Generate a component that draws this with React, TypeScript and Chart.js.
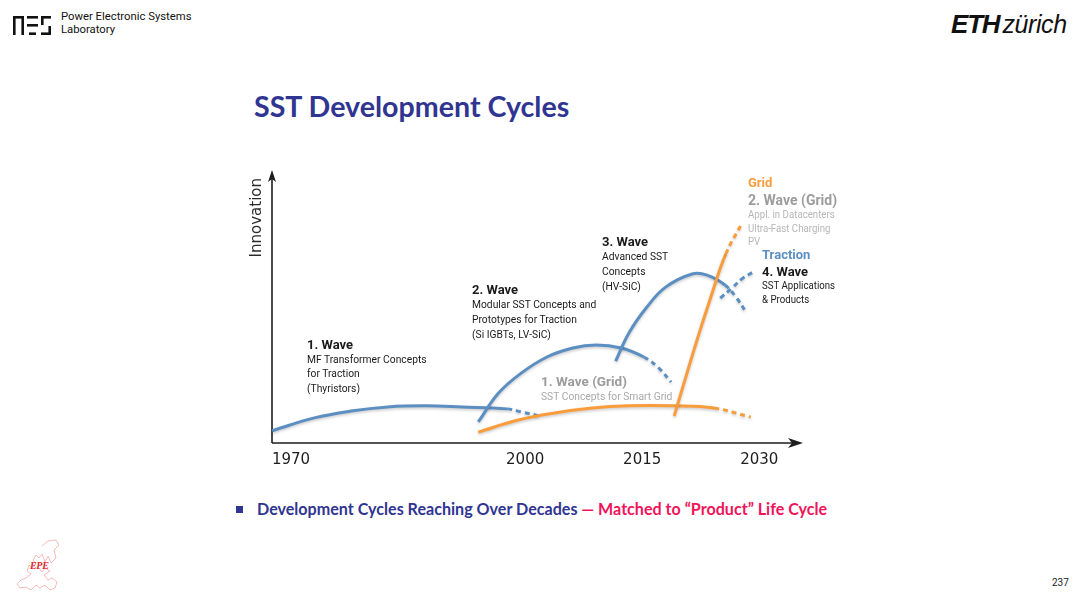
import React, { useEffect, useRef } from 'react';
import { Chart, registerables } from 'chart.js';

Chart.register(...registerables);

// ---------- data ----------
const xTickValues = [1970, 2000, 2015, 2030];
const xTickLabels = ['1970', '2000', '2015', '2030'];

// Traction waves (blue)
const trac1X = [1967.6, 1973.0, 1977.7, 1982.4, 1987.2, 1991.9, 1997.7, 1999.5, 2001.9];
const trac1Y = [4.5, 9.2, 11.7, 13.2, 13.6, 13.2, 12.5, 11.4, 9.9];
const trac1DashFrom = 6;

const trac2X = [1994.0, 1996.6, 1999.5, 2002.8, 2006.1, 2009.1, 2012.3, 2015.2, 2017.1, 2018.7];
const trac2Y = [7.7, 18.3, 25.6, 31.5, 34.8, 35.9, 34.8, 31.5, 27.5, 22.3];
const trac2DashFrom = 7;

const trac3X = [2011.6, 2013.3, 2015.6, 2018.0, 2021.4, 2023.3, 2025.6, 2027.0, 2028.3];
const trac3Y = [30.0, 40.3, 49.8, 57.1, 61.9, 61.5, 57.9, 53.5, 48.0];
const trac3DashFrom = 6;

const trac4X = [2025.0, 2026.5, 2027.9, 2029.2];
const trac4Y = [53.1, 56.8, 60.4, 62.6];
const trac4DashFrom = 0;

// Grid waves (orange)
const grid1X = [1994.0, 1999.1, 2003.8, 2008.6, 2013.3, 2018.9, 2024.2, 2028.9];
const grid1Y = [4.0, 8.4, 11.0, 12.8, 13.6, 13.6, 12.8, 9.5];
const grid1DashFrom = 6;

const grid2X = [2019.1, 2021.9, 2023.8, 2025.7, 2027.8];
const grid2Y = [9.9, 36.6, 53.5, 69.2, 80.6];
const grid2DashFrom = 3;

const Y_ARROW = 100;

const BLUE = '#5b8fc2';
const ORANGE = '#f89c3c';
const AXIS = '#1e1e1e';
const NAVY = '#2f3591';

const toPoints = (xs: number[], ys: number[]) => xs.map((x, i) => ({ x, y: ys[i] }));

const makeSet = (xs: number[], ys: number[], dashFrom: number, color: string) => ({
  data: toPoints(xs, ys),
  borderColor: color,
  borderWidth: 3,
  pointRadius: 0,
  tension: 0.4,
  fill: false,
  clip: false as any,
  borderCapStyle: 'butt' as const,
  segment: {
    borderDash: (ctx: any) => (ctx.p0DataIndex >= dashFrom ? [5, 4] : undefined),
  },
});

const axesPlugin = {
  id: 'axesArrows',
  beforeDatasetsDraw(chart: any) {
    const { ctx, chartArea } = chart;
    const { left, right, bottom } = chartArea;
    const top = chart.scales.y.getPixelForValue(Y_ARROW);
    ctx.save();
    ctx.strokeStyle = AXIS;
    ctx.fillStyle = AXIS;
    ctx.lineWidth = 1.6;
    ctx.beginPath();
    ctx.moveTo(left, bottom);
    ctx.lineTo(right - 8, bottom);
    ctx.moveTo(left, bottom);
    ctx.lineTo(left, top + 8);
    ctx.stroke();
    ctx.beginPath();
    ctx.moveTo(right, bottom);
    ctx.lineTo(right - 15, bottom - 5);
    ctx.lineTo(right - 11, bottom);
    ctx.lineTo(right - 15, bottom + 5);
    ctx.closePath();
    ctx.fill();
    ctx.beginPath();
    ctx.moveTo(left, top);
    ctx.lineTo(left - 4, top + 12);
    ctx.lineTo(left, top + 9);
    ctx.lineTo(left + 4, top + 12);
    ctx.closePath();
    ctx.fill();
    ctx.restore();
    ctx.save();
    ctx.shadowColor = 'rgba(0,0,0,0.22)';
    ctx.shadowBlur = 3;
    ctx.shadowOffsetY = 1.5;
  },
  afterDatasetsDraw(chart: any) {
    chart.ctx.restore();
  },
};

function WaveChart() {
  const ref = useRef<HTMLCanvasElement>(null);
  useEffect(() => {
    const canvas = ref.current!;
    const chart = new Chart(canvas, {
      type: 'line',
      data: {
        datasets: [
          makeSet(grid2X, grid2Y, grid2DashFrom, ORANGE),
          makeSet(trac4X, trac4Y, trac4DashFrom, BLUE),
          makeSet(grid1X, grid1Y, grid1DashFrom, ORANGE),
          makeSet(trac3X, trac3Y, trac3DashFrom, BLUE),
          makeSet(trac2X, trac2Y, trac2DashFrom, BLUE),
          makeSet(trac1X, trac1Y, trac1DashFrom, BLUE),
        ] as any,
      },
      options: {
        animation: false,
        responsive: true,
        maintainAspectRatio: false,
        layout: { padding: { top: 18, right: 17, left: 0, bottom: 0 } },
        plugins: { legend: { display: false }, tooltip: { enabled: false } },
        scales: {
          x: {
            type: 'linear',
            min: 1967.57,
            max: 2035.6,
            grid: { display: false, drawTicks: false },
            border: { display: false },
            afterBuildTicks: (s: any) => {
              s.ticks = xTickValues.map((v) => ({ value: v }));
            },
            afterFit: (s: any) => {
              s.height = 37;
            },
            ticks: {
              autoSkip: false,
              maxRotation: 0,
              padding: 8,
              color: '#1e1e1e',
              font: { family: '"DejaVu Sans", sans-serif', size: 15 },
              callback: (_v: any, i: number) => xTickLabels[i],
            },
          },
          y: {
            type: 'linear',
            min: 0,
            max: 97.07,
            grid: { display: false, drawTicks: false },
            border: { display: false },
            ticks: { display: false },
            afterFit: (s: any) => {
              s.width = 32;
            },
            title: {
              display: true,
              text: 'Innovation',
              align: 'end',
              color: '#2a2a2a',
              font: { family: '"DejaVu Sans", sans-serif', size: 15 },
              padding: { top: 8, bottom: 0 },
            },
          },
        },
      } as any,
      plugins: [axesPlugin],
    });
    return () => chart.destroy();
  }, []);
  return <canvas ref={ref} />;
}

type Lbl = {
  x: number;
  y: number;
  text: string;
  size: number;
  color: string;
  bold?: boolean;
  sx?: number;
};

const BLACK = '#1a1a1a';
const GREY_H = '#9c9c9c';
const GREY_T = '#a9a9a9';
const GREY_L = '#b6b6b6';
const SUB = 11.7;
const SX = 0.88;

const labels: Lbl[] = [
  { x: 307, y: 344, text: '1. Wave', size: 13, color: BLACK, bold: true },
  { x: 307, y: 359, text: 'MF Transformer Concepts', size: SUB, color: BLACK, sx: SX },
  { x: 307, y: 373.5, text: 'for Traction', size: SUB, color: BLACK, sx: SX },
  { x: 307, y: 388, text: '(Thyristors)', size: SUB, color: BLACK, sx: SX },

  { x: 472, y: 289, text: '2. Wave', size: 13, color: BLACK, bold: true },
  { x: 472, y: 304, text: 'Modular SST Concepts and', size: SUB, color: BLACK, sx: SX },
  { x: 472, y: 319, text: 'Prototypes for Traction', size: SUB, color: BLACK, sx: SX },
  { x: 472, y: 334, text: '(Si IGBTs, LV-SiC)', size: SUB, color: BLACK, sx: SX },

  { x: 602, y: 241, text: '3. Wave', size: 13, color: BLACK, bold: true },
  { x: 602, y: 256, text: 'Advanced SST', size: SUB, color: BLACK, sx: SX },
  { x: 602, y: 271, text: 'Concepts', size: SUB, color: BLACK, sx: SX },
  { x: 602, y: 286, text: '(HV-SiC)', size: SUB, color: BLACK, sx: SX },

  { x: 541, y: 381, text: '1. Wave (Grid)', size: 13.5, color: GREY_H, bold: true },
  { x: 541, y: 396, text: 'SST Concepts for Smart Grid', size: SUB, color: GREY_T, sx: SX },

  { x: 748, y: 182, text: 'Grid', size: 13, color: ORANGE, bold: true },
  { x: 748, y: 200, text: '2. Wave (Grid)', size: 14, color: GREY_H, bold: true },
  { x: 748, y: 215, text: 'Appl. in Datacenters', size: 11, color: GREY_L, sx: SX },
  { x: 748, y: 229, text: 'Ultra-Fast Charging', size: 11, color: GREY_L, sx: SX },
  { x: 748, y: 242, text: 'PV', size: 11, color: GREY_L, sx: SX },

  { x: 762, y: 254, text: 'Traction', size: 13, color: BLUE, bold: true },
  { x: 762, y: 271, text: '4. Wave', size: 13, color: BLACK, bold: true },
  { x: 762, y: 286, text: 'SST Applications', size: 11, color: BLACK, sx: SX },
  { x: 762, y: 300, text: '& Products', size: 11, color: BLACK, sx: SX },
];

function Label({ x, y, text, size, color, bold, sx = 1 }: Lbl) {
  const lh = Math.round(size * 1.3);
  return (
    <div
      style={{
        position: 'absolute',
        left: x,
        top: y - lh / 2,
        fontSize: size,
        lineHeight: `${lh}px`,
        color,
        fontWeight: bold ? 700 : 400,
        fontFamily: 'Roboto, sans-serif',
        whiteSpace: 'nowrap',
        transform: sx !== 1 ? `scaleX(${sx})` : undefined,
        transformOrigin: '0 50%',
      }}
    >
      {text}
    </div>
  );
}

function PesLogo() {
  const c = '#111';
  return (
    <svg width={40} height={22} style={{ position: 'absolute', left: 12, top: 14 }}>
      <rect x={1} y={2} width={11} height={2.6} fill={c} />
      <rect x={1} y={2} width={2.6} height={19} fill={c} />
      <rect x={9.4} y={2} width={2.6} height={19} fill={c} />
      <rect x={15} y={2} width={11} height={2.6} fill={c} />
      <rect x={15} y={10} width={11} height={2.6} fill={c} />
      <rect x={17} y={18.4} width={7} height={2.6} fill={c} />
      <rect x={29} y={2} width={10} height={2.6} fill={c} />
      <rect x={29} y={2} width={2.6} height={9} fill={c} />
      <rect x={36.4} y={12} width={2.6} height={9} fill={c} />
      <rect x={29} y={18.4} width={10} height={2.6} fill={c} />
    </svg>
  );
}

function EpeLogo() {
  return (
    <div style={{ position: 'absolute', left: 12, top: 538, width: 50, height: 56 }}>
      <svg width={50} height={56} style={{ position: 'absolute', left: 0, top: 0 }}>
        <polyline
          points="30,8 36,3 44,2 47,7 42,12 44,20 39,25 36,18 33,24 30,16 27,20 24,17 21,22 24,26 20,30 17,27 15,33 19,36 14,40 9,42 5,46 8,50 14,49 19,52 24,47 28,50 33,47 38,52 43,50 45,44 40,40 36,42 32,37 38,33 33,30 30,34 27,30"
          fill="none"
          stroke="#f4a8a8"
          strokeWidth={0.8}
        />
      </svg>
      <div
        style={{
          position: 'absolute',
          left: 18,
          top: 22,
          fontFamily: 'Liberation Serif, serif',
          fontStyle: 'italic',
          fontWeight: 700,
          fontSize: 10,
          color: '#e0242c',
          letterSpacing: -0.3,
        }}
      >
        EPE
      </div>
    </div>
  );
}

export default function App() {
  return (
    <div
      style={{
        position: 'fixed',
        left: 0,
        top: 0,
        width: 1080,
        height: 596,
        background: '#fff',
        overflow: 'hidden',
        fontFamily: 'Roboto, sans-serif',
      }}
    >
      <PesLogo />
      <div style={{ position: 'absolute', left: 61, top: 11, fontSize: 11.3, lineHeight: '12.5px', color: '#111' }}>
        Power Electronic Systems
        <br />
        Laboratory
      </div>

      <div
        style={{
          position: 'absolute',
          left: 951,
          top: 9,
          fontFamily: '"Liberation Sans", Arial, sans-serif',
          fontSize: 26,
          lineHeight: '31px',
          fontStyle: 'italic',
          color: '#111',
          whiteSpace: 'nowrap',
        }}
      >
        <span style={{ fontWeight: 700, letterSpacing: -1.2 }}>ETH</span>
        <span style={{ fontWeight: 400, marginLeft: 3, fontSize: 25, letterSpacing: -0.4 }}>zürich</span>
      </div>

      <div
        style={{
          position: 'absolute',
          left: 254,
          top: 89,
          fontFamily: 'Lato, sans-serif',
          fontWeight: 700,
          fontSize: 28.6,
          lineHeight: '35px',
          color: NAVY,
          whiteSpace: 'nowrap',
        }}
      >
        SST Development Cycles
      </div>

      <div style={{ position: 'absolute', left: 240, top: 160, width: 580, height: 320 }}>
        <WaveChart />
      </div>

      {labels.map((l, i) => (
        <Label key={i} {...l} />
      ))}

      <div style={{ position: 'absolute', left: 236, top: 506, width: 7, height: 7, background: NAVY }} />
      <div
        style={{
          position: 'absolute',
          left: 257,
          top: 499,
          fontFamily: 'Lato, sans-serif',
          fontWeight: 700,
          fontSize: 16.1,
          lineHeight: '20px',
          whiteSpace: 'nowrap',
        }}
      >
        <span style={{ color: NAVY }}>Development Cycles Reaching Over Decades</span>
        <span style={{ color: '#f0145a' }}> — Matched to “Product” Life Cycle</span>
      </div>

      <EpeLogo />

      <div style={{ position: 'absolute', left: 1052, top: 576, fontSize: 10, lineHeight: '14px', color: '#222' }}>237</div>
    </div>
  );
}
